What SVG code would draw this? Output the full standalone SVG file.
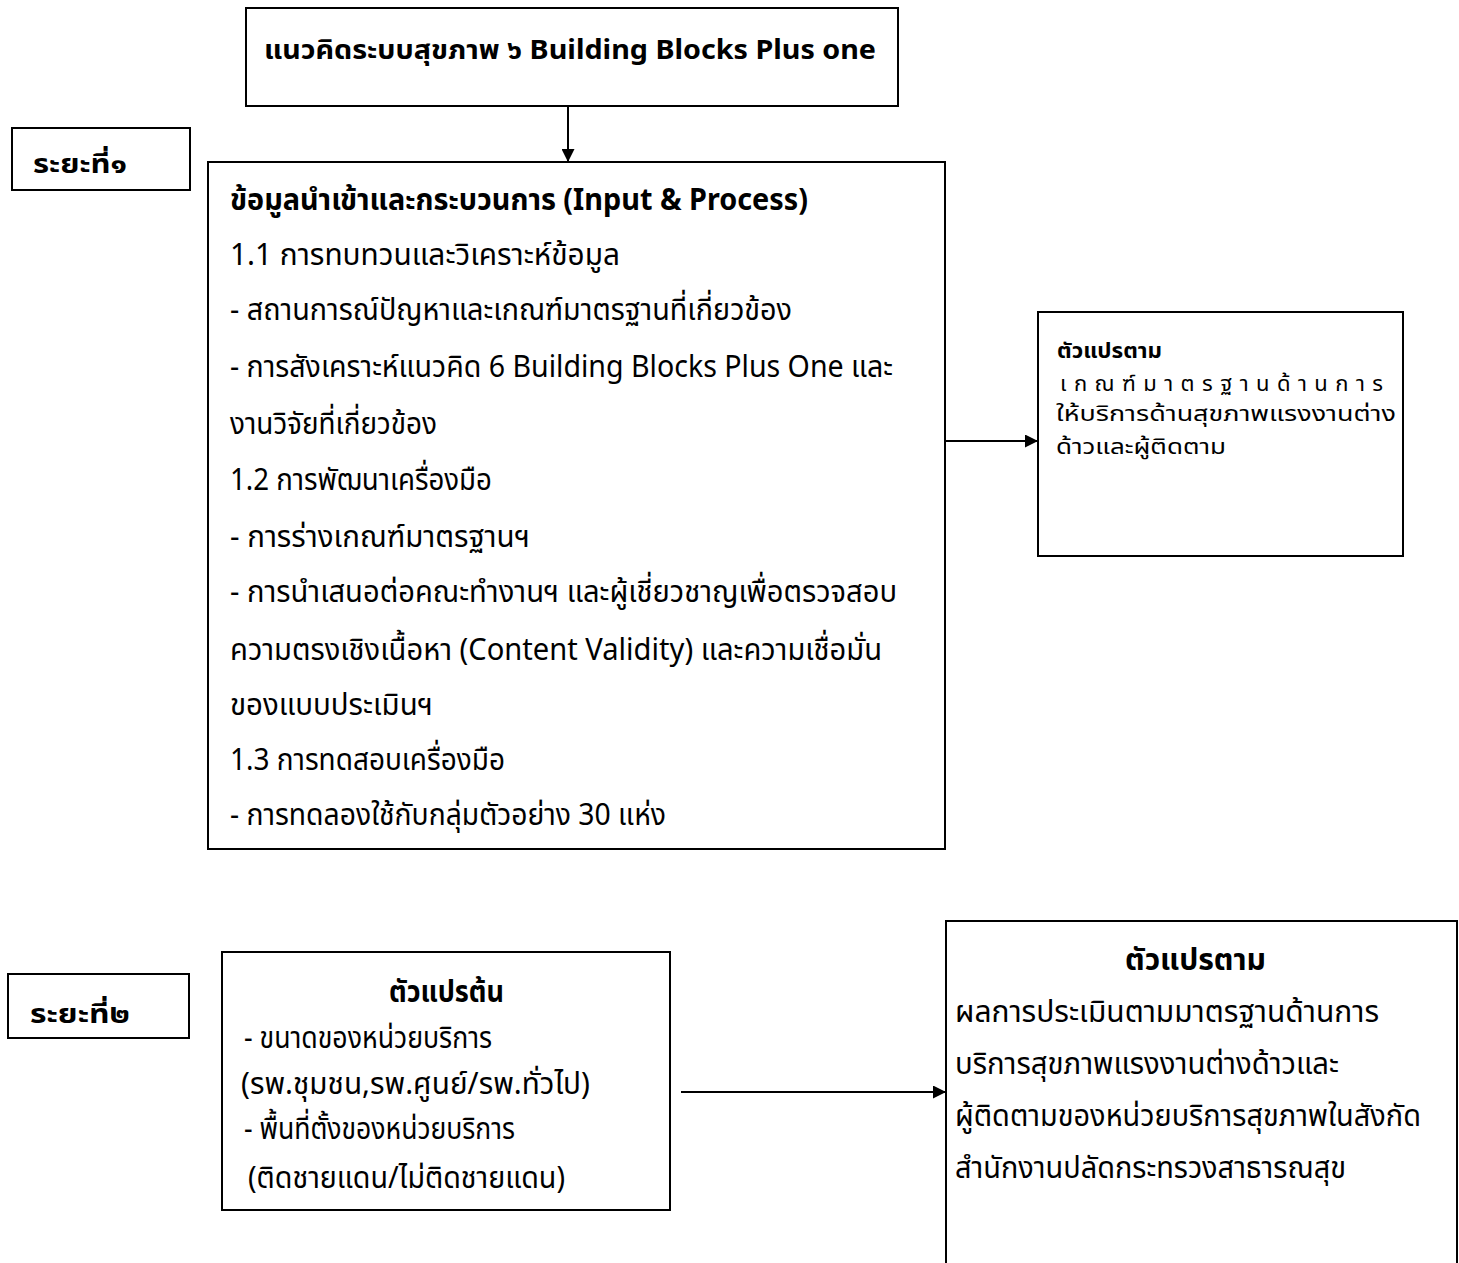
<svg xmlns="http://www.w3.org/2000/svg" width="1459" height="1263" viewBox="0 0 1459 1263">
<style>
.box{fill:#fff;stroke:#000;stroke-width:2}
text{font-family:"Noto Sans","Noto Sans Thai","Tahoma","DejaVu Sans",sans-serif;fill:#000}
.t{font-size:30px}
.m{font-size:26px}
.s{font-size:22px}
.b{font-weight:bold}
.line{stroke:#000;stroke-width:2;fill:none}
</style>
<defs>
<marker id="arr2" markerWidth="13" markerHeight="13" refX="12" refY="6.5" orient="auto" markerUnits="userSpaceOnUse">
<path d="M0,0 L13,6.5 L0,13 Z" fill="#000"/>
</marker>
</defs>
<g id="connectors">
<line class="line" x1="568" y1="106" x2="568" y2="161" marker-end="url(#arr2)"/>
<line class="line" x1="945" y1="441" x2="1037" y2="441" marker-end="url(#arr2)"/>
<line class="line" x1="681" y1="1092" x2="945" y2="1092" stroke-width="3" marker-end="url(#arr2)"/>
</g>
<g id="concept">
<rect class="box" x="246" y="8" width="652" height="98"/>
<text class="m b" x="264" y="59" textLength="612" lengthAdjust="spacingAndGlyphs">แนวคิดระบบสุขภาพ ๖ Building Blocks Plus one</text>
</g>
<g id="phase1">
<rect class="box" x="12" y="128" width="178" height="62"/>
<text class="m b" x="33" y="173" textLength="94" lengthAdjust="spacingAndGlyphs">ระยะที่๑</text>
</g>
<g id="process">
<rect class="box" x="208" y="162" width="737" height="687"/>
<text class="t b" x="230" y="210" textLength="578" lengthAdjust="spacingAndGlyphs">ข้อมูลนำเข้าและกระบวนการ (Input &amp; Process)</text>
<text class="t" x="230" y="265" textLength="390" lengthAdjust="spacingAndGlyphs">1.1 การทบทวนและวิเคราะห์ข้อมูล</text>
<text class="t" x="230" y="320" textLength="562" lengthAdjust="spacingAndGlyphs">- สถานการณ์ปัญหาและเกณฑ์มาตรฐานที่เกี่ยวข้อง</text>
<text class="t" x="230" y="377" textLength="663" lengthAdjust="spacingAndGlyphs">- การสังเคราะห์แนวคิด 6 Building Blocks Plus One และ</text>
<text class="t" x="230" y="434" textLength="207" lengthAdjust="spacingAndGlyphs">งานวิจัยที่เกี่ยวข้อง</text>
<text class="t" x="230" y="490" textLength="262" lengthAdjust="spacingAndGlyphs">1.2 การพัฒนาเครื่องมือ</text>
<text class="t" x="230" y="547" textLength="300" lengthAdjust="spacingAndGlyphs">-  การร่างเกณฑ์มาตรฐานฯ</text>
<text class="t" x="230" y="602" textLength="667" lengthAdjust="spacingAndGlyphs">- การนำเสนอต่อคณะทำงานฯ และผู้เชี่ยวชาญเพื่อตรวจสอบ</text>
<text class="t" x="230" y="660" textLength="652" lengthAdjust="spacingAndGlyphs">ความตรงเชิงเนื้อหา  (Content Validity) และความเชื่อมั่น</text>
<text class="t" x="230" y="715" textLength="203" lengthAdjust="spacingAndGlyphs">ของแบบประเมินฯ</text>
<text class="t" x="230" y="770" textLength="275" lengthAdjust="spacingAndGlyphs">1.3 การทดสอบเครื่องมือ</text>
<text class="t" x="230" y="825" textLength="436" lengthAdjust="spacingAndGlyphs">- การทดลองใช้กับกลุ่มตัวอย่าง 30 แห่ง</text>
</g>
<g id="dependent1">
<rect class="box" x="1038" y="312" width="365" height="244"/>
<text class="s b" x="1057" y="358" font-size="24" textLength="105" lengthAdjust="spacingAndGlyphs">ตัวแปรตาม</text>
<text class="s" x="1060" y="391" textLength="323" lengthAdjust="spacing">เกณฑ์มาตรฐานด้านการ</text>
<text class="s" x="1056" y="421" textLength="340" lengthAdjust="spacingAndGlyphs">ให้บริการด้านสุขภาพแรงงานต่าง</text>
<text class="s" x="1056" y="454" textLength="170" lengthAdjust="spacingAndGlyphs">ด้าวและผู้ติดตาม</text>
</g>
<g id="phase2">
<rect class="box" x="8" y="974" width="181" height="64"/>
<text class="m b" x="30" y="1023" textLength="100" lengthAdjust="spacingAndGlyphs">ระยะที่๒</text>
</g>
<g id="independent">
<rect class="box" x="222" y="952" width="448" height="258"/>
<text class="t b" x="389" y="1002" textLength="115" lengthAdjust="spacingAndGlyphs">ตัวแปรต้น</text>
<text class="t" x="244" y="1048" textLength="248" lengthAdjust="spacingAndGlyphs">- ขนาดของหน่วยบริการ</text>
<text class="t" x="241" y="1094" textLength="349" lengthAdjust="spacingAndGlyphs">(รพ.ชุมชน,รพ.ศูนย์/รพ.ทั่วไป)</text>
<text class="t" x="244" y="1139" textLength="271" lengthAdjust="spacingAndGlyphs">- พื้นที่ตั้งของหน่วยบริการ</text>
<text class="t" x="248" y="1188" textLength="317" lengthAdjust="spacingAndGlyphs">(ติดชายแดน/ไม่ติดชายแดน)</text>
</g>
<g id="dependent2">
<rect class="box" x="946" y="921" width="511" height="350"/>
<text class="t b" x="1125" y="970" textLength="141" lengthAdjust="spacingAndGlyphs">ตัวแปรตาม</text>
<text class="t" x="955" y="1022" textLength="424" lengthAdjust="spacingAndGlyphs">ผลการประเมินตามมาตรฐานด้านการ</text>
<text class="t" x="955" y="1074" textLength="384" lengthAdjust="spacingAndGlyphs">บริการสุขภาพแรงงานต่างด้าวและ</text>
<text class="t" x="955" y="1126" textLength="466" lengthAdjust="spacingAndGlyphs">ผู้ติดตามของหน่วยบริการสุขภาพในสังกัด</text>
<text class="t" x="955" y="1178" textLength="391" lengthAdjust="spacingAndGlyphs">สำนักงานปลัดกระทรวงสาธารณสุข</text>
</g>
</svg>
